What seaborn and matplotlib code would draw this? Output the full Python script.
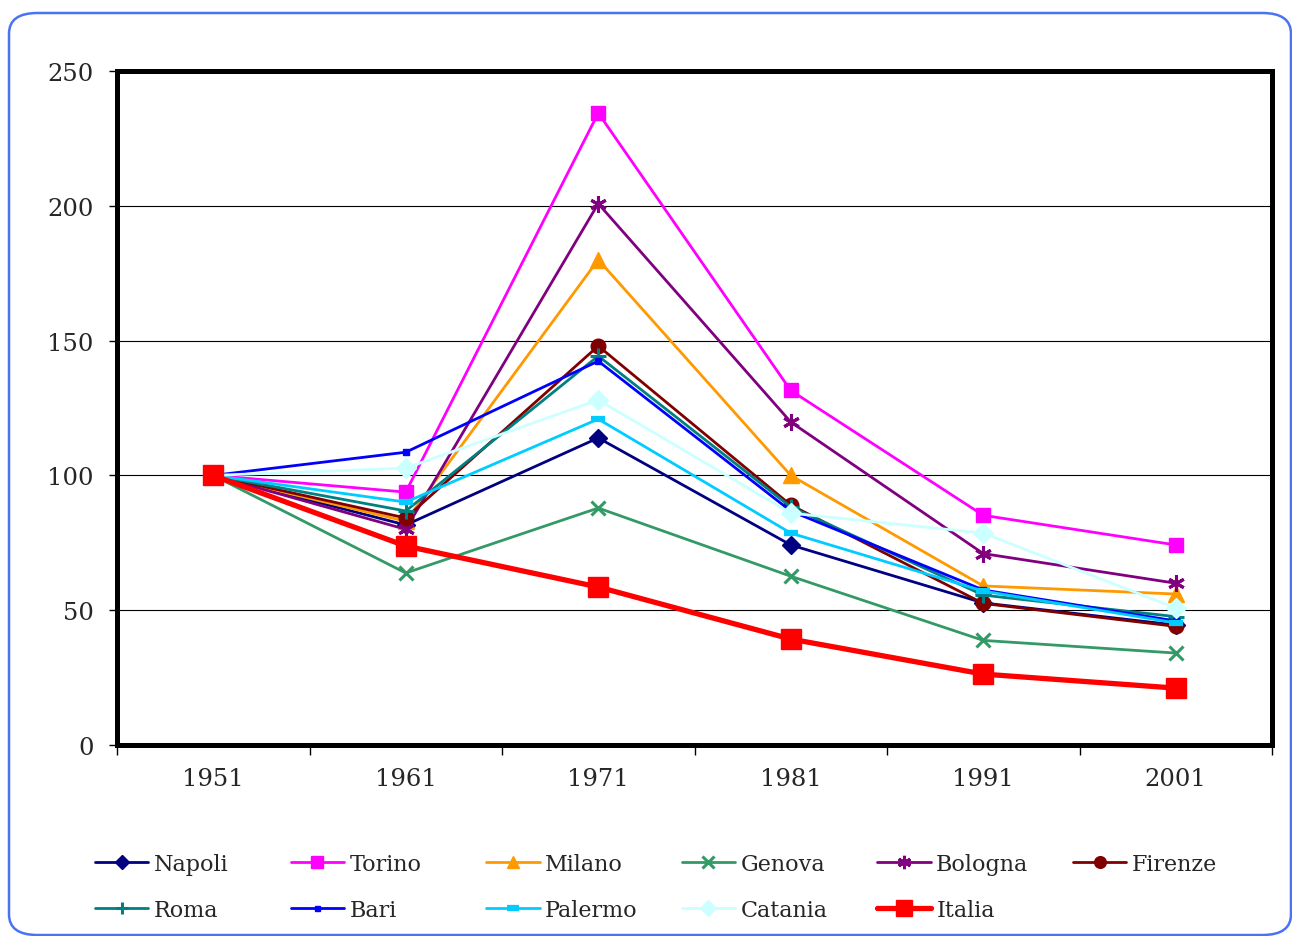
import numpy as np
import pandas as pd
import seaborn as sns
from matplotlib import pyplot as plt
from matplotlib.patches import FancyBboxPatch
from matplotlib.ticker import FixedLocator

years = ['1951', '1961', '1971', '1981', '1991', '2001']

napoli = [100, 81.6, 113.9, 74.2, 52.7, 44.5]
torino = [100, 93.8, 234.4, 131.5, 85.2, 74.2]
milano = [100, 83.0, 180.0, 100.0, 59.0, 56.0]
genova = [100, 63.8, 87.9, 62.6, 38.8, 34.1]
bologna = [100, 80.0, 200.8, 119.8, 71.0, 60.0]
firenze = [100, 84.2, 148.0, 89.0, 52.5, 44.0]
roma = [100, 86.8, 144.3, 88.3, 55.6, 47.6]
bari = [100, 108.6, 142.4, 86.8, 57.5, 46.0]
palermo = [100, 90.1, 120.9, 78.6, 57.1, 45.3]
catania = [100, 102.7, 128.0, 86.0, 78.6, 50.8]
italia = [100, 73.8, 58.6, 39.3, 26.3, 21.1]

names = ['Napoli', 'Torino', 'Milano', 'Genova', 'Bologna', 'Firenze',
         'Roma', 'Bari', 'Palermo', 'Catania', 'Italia']
series = [napoli, torino, milano, genova, bologna, firenze,
          roma, bari, palermo, catania, italia]

# Excel-like styles: color, marker, marker size, line width
styles = {
    'Napoli':  dict(color='#000080', marker='D', ms=9, lw=2.0),
    'Torino':  dict(color='#ff00ff', marker='s', ms=10.5, lw=2.0),
    'Milano':  dict(color='#ff9900', marker='^', ms=11, lw=2.0),
    'Genova':  dict(color='#339966', marker='x', ms=10, lw=2.0),
    'Bologna': dict(color='#800080', marker=(6, 2, 0), ms=12, lw=2.0),
    'Firenze': dict(color='#800000', marker='o', ms=10.5, lw=2.0),
    'Roma':    dict(color='#008080', marker='+', ms=11, lw=2.0),
    'Bari':    dict(color='#0000ff', marker='s', ms=4.5, lw=2.0),
    'Palermo': dict(color='#00ccff', marker='_', ms=10, lw=2.0),
    'Catania': dict(color='#ccffff', marker='D', ms=10, lw=2.0),
    'Italia':  dict(color='#ff0000', marker='s', ms=14.5, lw=3.8),
}

sns.set_theme(style='white')
plt.rcParams['font.family'] = ['DejaVu Serif']

W, H = 1292, 937
fig, ax = plt.subplots(figsize=(W / 100, H / 100), dpi=100)
fig.subplots_adjust(left=117 / W, right=1272 / W, top=1 - 72 / H, bottom=1 - 746 / H)

pos = np.arange(len(years))
handles = {}
for name, vals in zip(names, series):
    st = styles[name]
    df = pd.DataFrame({'x': pos, 'y': vals})
    mew = 1
    if st['marker'] in ('x', '+', (6, 2, 0)):
        mew = 2.2
    if st['marker'] == '_':
        mew = 4.5
    sns.lineplot(data=df, x='x', y='y', ax=ax, color=st['color'], lw=st['lw'],
                 marker=st['marker'], markersize=st['ms'], markeredgewidth=mew,
                 markeredgecolor=st['color'], markerfacecolor=st['color'],
                 label=name, legend=False)
    handles[name] = ax.lines[-1]

ax.set_xlim(-0.5, len(years) - 0.5)
ax.set_ylim(0, 250)
ax.set_yticks([0, 50, 100, 150, 200, 250])
ax.set_xticks(pos)
ax.set_xticklabels(years)
ax.xaxis.set_minor_locator(FixedLocator(np.arange(-0.5, len(years), 1)))
ax.tick_params(axis='x', which='major', length=0, pad=16, labelsize=17.5)
ax.tick_params(axis='x', which='minor', length=7, width=1, color='black', direction='out', bottom=True)
ax.tick_params(axis='y', which='major', length=6, width=1, color='black', direction='out', left=True, pad=11, labelsize=17.5)
ax.set_xlabel('')
ax.set_ylabel('')
ax.yaxis.grid(True, color='black', lw=0.8)
ax.set_axisbelow(True)
for sp in ax.spines.values():
    sp.set_color('black')
    sp.set_linewidth(3.6)

# legend laid out like Excel: six evenly spaced columns, filled row by row
ncol = 6
col_x = [95 + c * 195.6 for c in range(ncol)]
for c in range(ncol):
    col_names = [names[i] for i in (c, c + ncol) if i < len(names)]
    leg = fig.legend([handles[n] for n in col_names], col_names,
                     loc='upper left', bbox_to_anchor=(col_x[c] / W, 1 - 854 / H),
                     bbox_transform=fig.transFigure, frameon=False, fontsize=16,
                     handlelength=2.4, handletextpad=0.25, labelspacing=1.08,
                     markerscale=0.8, borderpad=0, borderaxespad=0)

# rounded border around the chart area
fig.patches.append(FancyBboxPatch((9 / W, 1 - 936 / H), (1291 - 9) / W, (936 - 14) / H,
                                  boxstyle='round,pad=0,rounding_size=0.022',
                                  transform=fig.transFigure, fill=False,
                                  edgecolor='#4a72f5', lw=1.8, clip_on=False))

fig.savefig('out.png', dpi=100)
